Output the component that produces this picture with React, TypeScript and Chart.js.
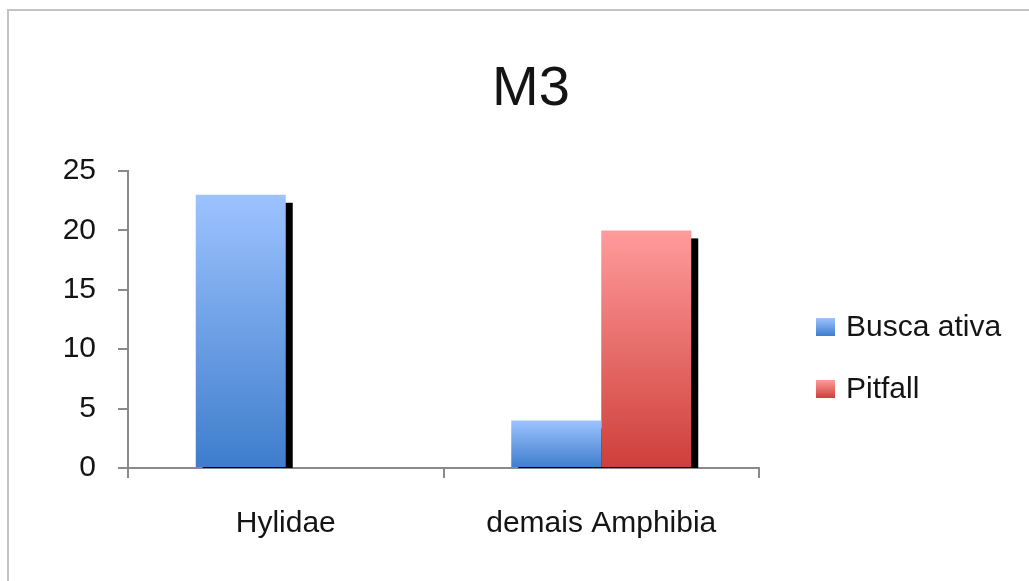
import React, { useEffect, useRef } from "react";
import { Chart, registerables } from "chart.js";

Chart.register(...registerables);

const TITLE = "M3";
const categories = ["Hylidae", "demais Amphibia"];
const seriesNames = ["Busca ativa", "Pitfall"];
const buscaAtiva = [23, 4];
const pitfall = [0, 20];
const yMin = 0;
const yMax = 25;
const yStep = 5;

const BLUE_STOPS = ["#9DC3FF", "#3E7DCC"];
const RED_STOPS = ["#FF9B9B", "#CE3F3A"];
const FONT = "'Liberation Sans', Arial, sans-serif";
const AXIS_COLOR = "#8a8a8a";
const TEXT_COLOR = "#141414";

function barGradient(stops: string[]) {
  return (ctx: any) => {
    const chart = ctx.chart;
    const y = chart.scales && chart.scales.y;
    if (!y || ctx.type !== "data") return stops[1];
    const v = ctx.raw as number;
    const top = y.getPixelForValue(v);
    const bottom = y.getPixelForValue(0);
    if (!isFinite(top) || !isFinite(bottom) || top === bottom) return stops[1];
    const g = chart.ctx.createLinearGradient(0, top, 0, bottom);
    g.addColorStop(0, stops[0]);
    g.addColorStop(1, stops[1]);
    return g;
  };
}

// Draws the offset black shadow of every bar before any bar is painted,
// so bars always sit on top of all shadows.
const shadowPlugin = {
  id: "barShadow",
  beforeDatasetsDraw(chart: any) {
    const c = chart.ctx;
    const area = chart.chartArea;
    c.save();
    c.beginPath();
    c.rect(area.left, area.top, area.right - area.left, area.bottom - area.top);
    c.clip();
    c.fillStyle = "#000000";
    chart.data.datasets.forEach((_ds: any, i: number) => {
      const meta = chart.getDatasetMeta(i);
      meta.data.forEach((bar: any) => {
        const { x, y, base, width } = bar.getProps(["x", "y", "base", "width"], true);
        const h = base - y;
        if (h <= 0) return;
        c.fillRect(x - width / 2 + 7, y + 8, width, h);
      });
    });
    c.restore();
  },
};

const framePlugin = {
  id: "frame",
  beforeDraw(chart: any) {
    const c = chart.ctx;
    c.save();
    c.fillStyle = "#ffffff";
    c.fillRect(0, 0, chart.width, chart.height);
    c.strokeStyle = "#c3c3c3";
    c.lineWidth = 2;
    c.beginPath();
    c.moveTo(8, chart.height);
    c.lineTo(8, 10);
    c.lineTo(chart.width, 10);
    c.stroke();
    c.restore();
  },
};

const decorPlugin = {
  id: "decor",
  afterDraw(chart: any) {
    const c = chart.ctx;
    c.save();
    c.fillStyle = TEXT_COLOR;
    c.font = `56px ${FONT}`;
    c.textAlign = "center";
    c.textBaseline = "middle";
    c.fillText(TITLE, 531, 90);

    const stops = [BLUE_STOPS, RED_STOPS];
    const centers = [327, 389];
    chart.data.datasets.forEach((ds: any, i: number) => {
      const cy = centers[i];
      const g = c.createLinearGradient(0, cy - 9, 0, cy + 9);
      g.addColorStop(0, stops[i][0]);
      g.addColorStop(1, stops[i][1]);
      c.fillStyle = g;
      c.fillRect(816, cy - 9, 19, 18);
      c.fillStyle = TEXT_COLOR;
      c.font = `30px ${FONT}`;
      c.textAlign = "left";
      c.textBaseline = "middle";
      c.fillText(ds.label, 846, cy + 1);
    });
    c.restore();
  },
};

export default function App() {
  const canvasRef = useRef<HTMLCanvasElement | null>(null);

  useEffect(() => {
    if (!canvasRef.current) return;
    const chart = new Chart(canvasRef.current, {
      type: "bar",
      data: {
        labels: categories,
        datasets: [
          {
            label: seriesNames[0],
            data: buscaAtiva,
            backgroundColor: barGradient(BLUE_STOPS),
            borderWidth: 0,
            clip: 0,
          },
          {
            label: seriesNames[1],
            data: pitfall,
            backgroundColor: barGradient(RED_STOPS),
            borderWidth: 0,
            clip: 0,
          },
        ],
      } as any,
      options: {
        responsive: false,
        animation: false,
        events: [],
        layout: { padding: { top: 171, right: 270, left: 0, bottom: 0 } },
        datasets: {
          bar: { categoryPercentage: 0.5705, barPercentage: 1 },
        },
        plugins: {
          legend: { display: false },
          title: { display: false },
          tooltip: { enabled: false },
        },
        scales: {
          x: {
            afterFit: (scale: any) => {
              scale.height = 113;
            },
            grid: {
              display: true,
              offset: true,
              drawOnChartArea: false,
              drawTicks: true,
              tickLength: 10,
              color: AXIS_COLOR,
              lineWidth: 2,
            },
            border: { display: true, color: AXIS_COLOR, width: 2 },
            ticks: {
              color: TEXT_COLOR,
              font: { family: FONT, size: 30 },
              padding: 28,
              maxRotation: 0,
            },
          },
          y: {
            min: yMin,
            max: yMax,
            afterFit: (scale: any) => {
              scale.width = 128;
            },
            grid: {
              display: true,
              drawOnChartArea: false,
              drawTicks: true,
              tickLength: 10,
              color: AXIS_COLOR,
              lineWidth: 2,
            },
            border: { display: true, color: AXIS_COLOR, width: 2 },
            ticks: {
              stepSize: yStep,
              color: TEXT_COLOR,
              font: { family: FONT, size: 30 },
              padding: 22,
            },
          },
        },
      } as any,
      plugins: [framePlugin, shadowPlugin, decorPlugin],
    });
    return () => chart.destroy();
  }, []);

  return (
    <div style={{ position: "absolute", left: 0, top: 0, width: 1029, height: 581 }}>
      <canvas ref={canvasRef} width={1029} height={581} />
    </div>
  );
}
